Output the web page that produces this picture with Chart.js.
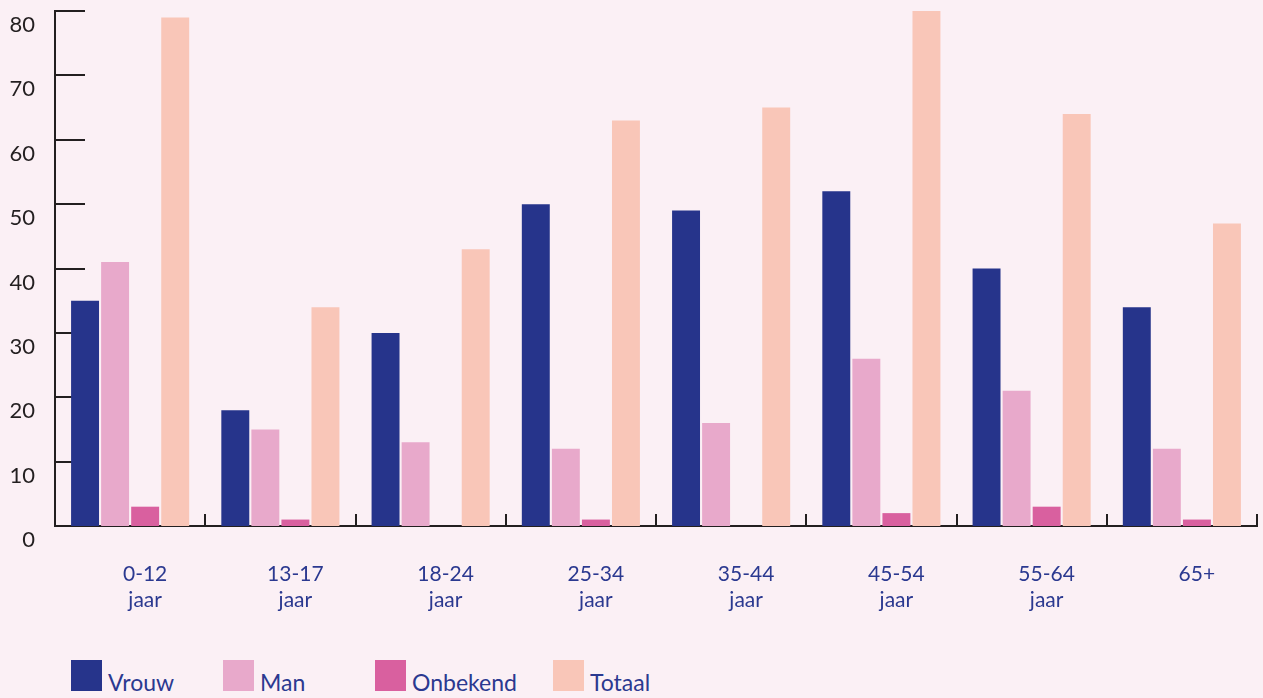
<!DOCTYPE html>
<html>
<head>
<meta charset="utf-8">
<script src="https://cdn.jsdelivr.net/npm/chart.js@4"></script>
<style>
  html, body { margin:0; padding:0; background:#FBF0F5; width:1263px; height:698px; overflow:hidden; font-family: Lato, "Open Sans", sans-serif; }
  #wrap { position:absolute; left:0; top:0; width:1263px; height:640px; }
  #legend { position:absolute; left:71px; top:660px; display:flex; align-items:flex-end; }
  .item { display:flex; align-items:flex-end; min-width:116px; margin-right:36px; }
  .box { width:31px; height:31px; margin-right:6px; flex:none; }
  .lbl { font-size:23px; color:#2B3990; line-height:23px; position:relative; top:3px; }
</style>
</head>
<body>
<div id="wrap"><canvas id="c" width="1263" height="640"></canvas></div>
<div id="legend"></div>
<script>
const categories = [["0-12","jaar"],["13-17","jaar"],["18-24","jaar"],["25-34","jaar"],["35-44","jaar"],["45-54","jaar"],["55-64","jaar"],"65+"];
const vrouw    = [35, 18, 30, 50, 49, 52, 40, 34];
const man      = [41, 15, 13, 12, 16, 26, 21, 12];
const onbekend = [3, 1, 0, 1, 0, 2, 3, 1];
const totaal   = [79, 34, 43, 63, 65, 80, 64, 47];
const seriesNames = ["Vrouw", "Man", "Onbekend", "Totaal"];
const seriesColors = ["#26348B", "#E8A9CB", "#D9609F", "#F9C6B8"];
const yTicks = { min: 0, max: 80, step: 10 };

const axisColor = "#231F20";
const fontFam = "Lato, 'Open Sans', sans-serif";

const innerTicks = {
  id: "innerTicks",
  beforeDatasetsDraw(chart) {
    const ctx = chart.ctx, x = chart.scales.x, y = chart.scales.y, a = chart.chartArea;
    ctx.save();
    ctx.strokeStyle = axisColor;
    ctx.lineWidth = 2;
    y.ticks.forEach(t => {
      if (t.value === yTicks.min) return;
      const py = Math.round(y.getPixelForValue(t.value));
      ctx.beginPath(); ctx.moveTo(a.left, py); ctx.lineTo(a.left + 30, py); ctx.stroke();
    });
    const n = chart.data.labels.length;
    const half = (x.getPixelForValue(1) - x.getPixelForValue(0)) / 2;
    for (let i = 0; i < n; i++) {
      const px = Math.round(x.getPixelForValue(i) + half);
      ctx.beginPath(); ctx.moveTo(px, a.bottom); ctx.lineTo(px, a.bottom - 12); ctx.stroke();
    }
    ctx.restore();
  }
};

const datasets = [vrouw, man, onbekend, totaal].map((d, i) => ({
  label: seriesNames[i],
  data: d,
  backgroundColor: seriesColors[i],
  borderWidth: 0,
  categoryPercentage: 0.8,
  barPercentage: 0.93
}));

const chart = new Chart(document.getElementById("c"), {
  type: "bar",
  data: { labels: categories, datasets },
  options: {
    responsive: false,
    animation: false,
    layout: { padding: { top: 11, right: 6, left: 0, bottom: 0 } },
    plugins: { legend: { display: false }, tooltip: { enabled: false } },
    scales: {
      x: {
        grid: { display: false, drawTicks: false },
        border: { display: true, color: axisColor, width: 2 },
        ticks: { color: "#2B3990", font: { family: fontFam, size: 21, lineHeight: 1.25 }, padding: 35, labelOffset: 15, maxRotation: 0, autoSkip: false },
        afterFit(s) { s.height = 114; s.paddingLeft = 0; s.paddingRight = 0; }
      },
      y: {
        min: yTicks.min, max: yTicks.max,
        grid: { display: false, drawTicks: false },
        border: { display: true, color: axisColor, width: 2 },
        ticks: { stepSize: yTicks.step, color: axisColor, font: { family: fontFam, size: 22 }, padding: 20, labelOffset: 14 },
        afterFit(s) { s.width = 55; s.paddingTop = 0; s.paddingBottom = 0; }
      }
    }
  },
  plugins: [innerTicks]
});

const leg = document.getElementById("legend");
chart.data.datasets.forEach(ds => {
  const it = document.createElement("div"); it.className = "item";
  const b = document.createElement("div"); b.className = "box"; b.style.background = ds.backgroundColor;
  const l = document.createElement("span"); l.className = "lbl"; l.textContent = ds.label;
  it.appendChild(b); it.appendChild(l); leg.appendChild(it);
});
</script>
</body>
</html>
